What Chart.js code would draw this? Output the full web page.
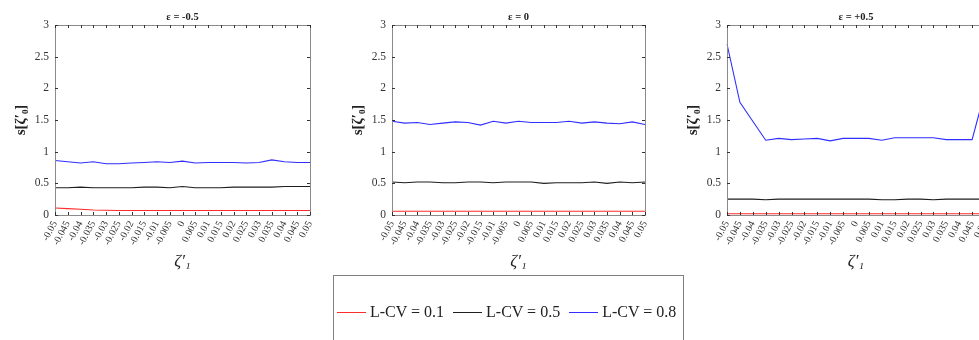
<!DOCTYPE html>
<html>
<head>
<meta charset="utf-8">
<script src="https://cdn.jsdelivr.net/npm/chart.js@4"></script>
<style>
  html, body { margin: 0; padding: 0; background: #fff; overflow: hidden; width: 979px; height: 340px; }
  .panel { position: absolute; top: 0; height: 300px; }
  #legend {
    position: absolute; left: 333px; top: 275px; width: 351px; height: 90px;
    border: 1px solid #808080; box-sizing: border-box;
    font-family: "Liberation Serif", serif; font-size: 16px; color: #222;
    padding: 26px 0 0 3px; white-space: nowrap;
  }
  #legend .sw { display: inline-block; width: 29px; border-top: 1px solid; vertical-align: middle; margin-right: 4px; }
  #legend .lab { margin-right: 9px; vertical-align: middle; }
</style>
</head>
<body>
<div class="panel" id="p0"><canvas id="c0"></canvas></div>
<div class="panel" id="p1"><canvas id="c1"></canvas></div>
<div class="panel" id="p2"><canvas id="c2"></canvas></div>
<div id="legend"></div>

<script>
// x categories (zeta'_1)
const zetaLabels = ["-0.05", "-0.045", "-0.04", "-0.035", "-0.03", "-0.025", "-0.02", "-0.015", "-0.01", "-0.005",
  "0", "0.005", "0.01", "0.015", "0.02", "0.025", "0.03", "0.035", "0.04", "0.045", "0.05"];
const seriesNames = ["L-CV = 0.1", "L-CV = 0.5", "L-CV = 0.8"];
const seriesColors = ["#ff2a2a", "#1e1e1e", "#2f2fff"];
const epsTitles = ["ε = -0.5", "ε = 0", "ε = +0.5"];
const yTicks = [0, 0.5, 1, 1.5, 2, 2.5, 3];

// eps = -0.5
const neg_lcv01 = [0.11, 0.10, 0.09, 0.08, 0.075, 0.07, 0.07, 0.07, 0.07, 0.07, 0.07, 0.07, 0.07, 0.07, 0.07, 0.07, 0.07, 0.07, 0.07, 0.07, 0.07];
const neg_lcv05 = [0.43, 0.43, 0.44, 0.43, 0.43, 0.43, 0.43, 0.44, 0.44, 0.43, 0.45, 0.43, 0.43, 0.43, 0.44, 0.44, 0.44, 0.44, 0.45, 0.45, 0.45];
const neg_lcv08 = [0.86, 0.84, 0.82, 0.84, 0.81, 0.81, 0.82, 0.83, 0.84, 0.83, 0.85, 0.82, 0.83, 0.83, 0.83, 0.82, 0.83, 0.87, 0.84, 0.83, 0.83];
// eps = 0
const zero_lcv01 = [0.06, 0.06, 0.06, 0.06, 0.06, 0.06, 0.06, 0.06, 0.06, 0.06, 0.06, 0.06, 0.06, 0.06, 0.06, 0.06, 0.06, 0.06, 0.06, 0.06, 0.06];
const zero_lcv05 = [0.52, 0.51, 0.52, 0.52, 0.51, 0.51, 0.52, 0.52, 0.51, 0.52, 0.52, 0.52, 0.50, 0.51, 0.51, 0.51, 0.52, 0.50, 0.52, 0.51, 0.52];
const zero_lcv08 = [1.48, 1.45, 1.46, 1.43, 1.45, 1.47, 1.46, 1.42, 1.48, 1.45, 1.48, 1.46, 1.46, 1.46, 1.48, 1.45, 1.47, 1.45, 1.44, 1.47, 1.43];
// eps = +0.5
const pos_lcv01 = [0.02, 0.02, 0.02, 0.02, 0.02, 0.02, 0.02, 0.02, 0.02, 0.02, 0.02, 0.02, 0.02, 0.02, 0.02, 0.02, 0.02, 0.02, 0.02, 0.02, 0.02];
const pos_lcv05 = [0.25, 0.25, 0.25, 0.24, 0.25, 0.25, 0.25, 0.25, 0.25, 0.25, 0.25, 0.25, 0.24, 0.24, 0.25, 0.25, 0.24, 0.25, 0.25, 0.25, 0.25];
const pos_lcv08 = [2.7, 1.78, 1.48, 1.18, 1.21, 1.19, 1.20, 1.21, 1.17, 1.21, 1.21, 1.21, 1.18, 1.22, 1.22, 1.22, 1.22, 1.19, 1.19, 1.19, 1.95];

const panelSeries = [
  [neg_lcv01, neg_lcv05, neg_lcv08],
  [zero_lcv01, zero_lcv05, zero_lcv08],
  [pos_lcv01, pos_lcv05, pos_lcv08]
];

// layout of each panel: where its plot area starts and how wide it is
const plotLeft = [55, 392, 727];
const plotWidth = [255, 253, 258];
const axisW = 55;
const serif = "'Liberation Serif', 'DejaVu Serif', serif";

// frame + inward tick marks like the original figure
const boxTicks = {
  id: "boxTicks",
  afterDraw(chart) {
    const { ctx, chartArea: a, scales: { x, y } } = chart;
    ctx.save();
    ctx.strokeStyle = "#8a8a8a";
    ctx.lineWidth = 1;
    ctx.strokeRect(Math.round(a.left) + 0.5, Math.round(a.top) + 0.5,
      Math.round(a.right - a.left), Math.round(a.bottom - a.top));
    ctx.strokeStyle = "#333";
    ctx.beginPath();
    x.ticks.forEach((t, i) => {
      const px = Math.round(x.getPixelForTick(i)) + 0.5;
      ctx.moveTo(px, a.bottom); ctx.lineTo(px, a.bottom - 3);
      ctx.moveTo(px, a.top); ctx.lineTo(px, a.top + 3);
    });
    y.ticks.forEach((t, i) => {
      const py = Math.round(y.getPixelForTick(i)) + 0.5;
      ctx.moveTo(a.left, py); ctx.lineTo(a.left + 3, py);
      ctx.moveTo(a.right, py); ctx.lineTo(a.right - 3, py);
    });
    ctx.stroke();
    ctx.restore();
  }
};

function makePanel(i) {
  const div = document.getElementById("p" + i);
  div.style.left = (plotLeft[i] - axisW) + "px";
  div.style.width = (axisW * 2 + plotWidth[i]) + "px";

  const datasets = panelSeries[i].map((vals, k) => ({
    label: seriesNames[k],
    data: vals,
    borderColor: seriesColors[k],
    borderWidth: 1.1,
    pointRadius: 0,
    tension: 0,
    fill: false
  }));

  new Chart(document.getElementById("c" + i), {
    type: "line",
    data: { labels: zetaLabels, datasets },
    options: {
      responsive: true,
      maintainAspectRatio: false,
      animation: false,
      layout: { padding: 0 },
      plugins: {
        legend: { display: false },
        tooltip: { enabled: false },
        title: {
          display: true,
          text: epsTitles[i],
          color: "#222",
          font: { family: serif, size: 10.5, weight: "bold" },
          padding: { top: 11, bottom: 1.4 }
        }
      },
      scales: {
        x: {
          type: "category",
          offset: false,
          grid: { display: false, drawTicks: false },
          border: { display: false },
          ticks: {
            autoSkip: false, minRotation: 62, maxRotation: 62, padding: 4,
            color: "#333", font: { family: serif, size: 10 }
          },
          title: {
            display: true, text: "ζ′₁", color: "#222",
            font: { family: serif, size: 17, style: "italic" },
            padding: { top: 0, bottom: 28 }
          },
          afterFit(s) { s.height = 85; }
        },
        y: {
          min: 0, max: 3,
          afterBuildTicks(s) { s.ticks = yTicks.map(v => ({ value: v })); },
          grid: { display: false, drawTicks: false },
          border: { display: false },
          ticks: {
            padding: 6, color: "#333", font: { family: serif, size: 11.5 },
            callback: v => String(v)
          },
          title: {
            display: true, text: "s[ζ′₀]", color: "#222",
            font: { family: serif, size: 15, weight: "bold" },
            padding: { top: 12, bottom: 0 }
          },
          afterFit(s) { s.width = axisW; }
        },
        y2: {
          position: "right", min: 0, max: 3,
          grid: { display: false, drawTicks: false },
          border: { display: false },
          ticks: { display: false },
          afterFit(s) { s.width = axisW; }
        }
      }
    },
    plugins: [boxTicks]
  });
}

[0, 1, 2].forEach(makePanel);

// legend box under the middle panel
const legend = document.getElementById("legend");
seriesNames.forEach((name, k) => {
  const sw = document.createElement("span");
  sw.className = "sw";
  sw.style.borderTopColor = seriesColors[k];
  const lab = document.createElement("span");
  lab.className = "lab";
  lab.textContent = name;
  legend.appendChild(sw);
  legend.appendChild(lab);
});
</script>
</body>
</html>
